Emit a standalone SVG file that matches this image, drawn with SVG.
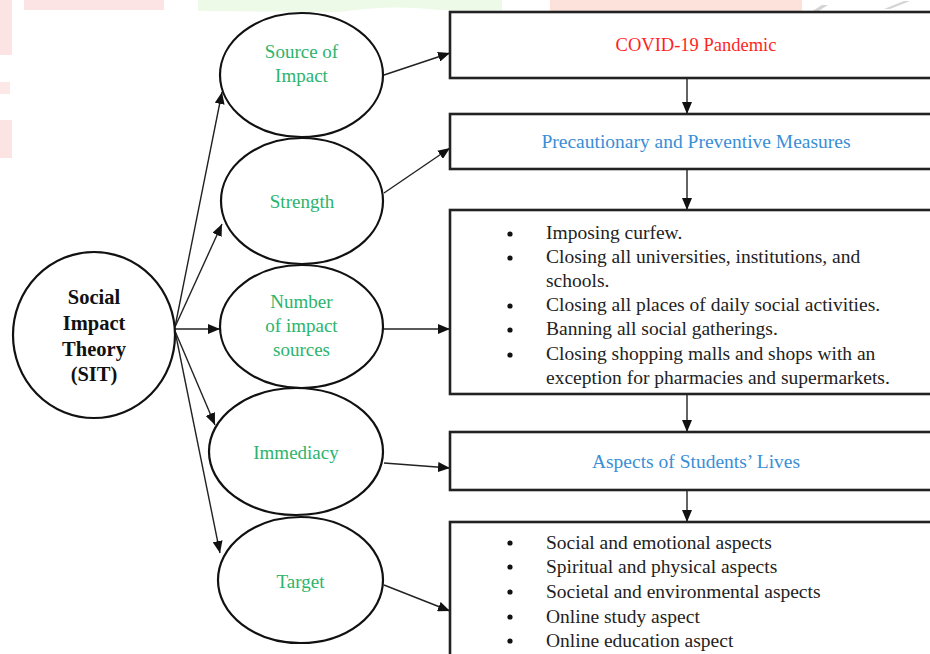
<svg xmlns="http://www.w3.org/2000/svg" width="930" height="654" viewBox="0 0 930 654">
<defs>
<marker id="ah" markerWidth="12" markerHeight="10" refX="12" refY="5" orient="auto" markerUnits="userSpaceOnUse">
<path d="M0,0 L12,5 L0,10 Z" fill="#111"/>
</marker>
<style>
.lbl{font-size:19px;fill:#2bb46c;text-anchor:middle;}
.ell{fill:#fff;stroke:#111;stroke-width:2.2;}
.box{fill:#fff;stroke:#222;stroke-width:2.6;}
.con{stroke:#222;stroke-width:1.4;fill:none;marker-end:url(#ah);}
.body{font-size:19.5px;fill:#222;}
.blue{font-size:19.5px;fill:#3a8ed6;text-anchor:middle;}
.dot{fill:#111;}
</style>
</defs>
<rect width="930" height="654" fill="#fff"/>
<g id="watermark">
<rect x="24" y="0" width="140" height="10" fill="#fde4e4"/>
<rect x="0" y="0" width="12" height="55" fill="#fde4e4"/>
<rect x="0" y="120" width="12" height="38" fill="#fde4e4"/>
<rect x="0" y="82" width="10" height="12" fill="#fde8e8"/>
<path d="M198,0 L502,0 L502,10 L440,10 Q390,4 340,12 L198,11 Z" fill="#eefae8"/>
<rect x="550" y="0" width="252" height="11" fill="#fde2dc"/>
<path d="M808,14 L822,5 L828,5 L814,14 Z" fill="#d4d4d4"/>
<path d="M884,9 L904,1 L910,1 L890,9 Z" fill="#d4d4d4"/>
</g>
<g id="connectors">
<line class="con" x1="175" y1="327" x2="222" y2="92"/>
<line class="con" x1="175" y1="327" x2="222" y2="224"/>
<line class="con" x1="175" y1="329" x2="220" y2="329"/>
<line class="con" x1="175" y1="331" x2="215" y2="425"/>
<line class="con" x1="175" y1="331" x2="220" y2="553"/>
<line class="con" x1="384" y1="75" x2="450" y2="53"/>
<line class="con" x1="384" y1="193" x2="450" y2="148"/>
<line class="con" x1="383" y1="329" x2="450" y2="329"/>
<line class="con" x1="384" y1="463" x2="450" y2="468"/>
<line class="con" x1="384" y1="585" x2="450" y2="611"/>
<line class="con" x1="687" y1="78" x2="687" y2="114"/>
<line class="con" x1="687" y1="169" x2="687" y2="210"/>
<line class="con" x1="687" y1="394" x2="687" y2="432"/>
<line class="con" x1="687" y1="490" x2="687" y2="522"/>
</g>
<g id="sit">
<ellipse class="ell" cx="94" cy="335" rx="81" ry="83"/>
<text font-family="Liberation Serif" font-size="20.5" font-weight="bold" fill="#111" text-anchor="middle"><tspan x="94" y="304">Social</tspan><tspan x="94" y="330">Impact</tspan><tspan x="94" y="356">Theory</tspan><tspan x="94" y="381">(SIT)</tspan></text>
</g>
<g id="source">
<ellipse class="ell" cx="301.5" cy="75" rx="81.5" ry="62"/>
<text font-family="Liberation Serif" class="lbl"><tspan x="301.5" y="58">Source of</tspan><tspan x="301.5" y="82">Impact</tspan></text>
</g>
<g id="strength">
<ellipse class="ell" cx="302" cy="201" rx="81" ry="63"/>
<text font-family="Liberation Serif" class="lbl" x="302" y="208">Strength</text>
</g>
<g id="number">
<ellipse class="ell" cx="301.5" cy="326.5" rx="81.5" ry="61.5"/>
<text font-family="Liberation Serif" class="lbl"><tspan x="301.5" y="308">Number</tspan><tspan x="301.5" y="332">of impact</tspan><tspan x="301.5" y="356">sources</tspan></text>
</g>
<g id="immediacy">
<ellipse class="ell" cx="296" cy="451.5" rx="87" ry="63.5"/>
<text font-family="Liberation Serif" class="lbl" x="296" y="459">Immediacy</text>
</g>
<g id="target">
<ellipse class="ell" cx="300.5" cy="580" rx="82.5" ry="63"/>
<text font-family="Liberation Serif" class="lbl" x="300.5" y="588">Target</text>
</g>
<g id="covid">
<rect class="box" x="450" y="12" width="495" height="66"/>
<text font-family="Liberation Serif" font-size="18.5" fill="#ff1f1f" text-anchor="middle" x="696" y="51">COVID-19 Pandemic</text>
</g>
<g id="measures">
<rect class="box" x="450" y="114" width="495" height="55"/>
<text font-family="Liberation Serif" class="blue" x="696" y="148">Precautionary and Preventive Measures</text>
</g>
<g id="actions">
<rect class="box" x="450" y="210" width="495" height="184"/>
<circle class="dot" cx="510" cy="234" r="2.6"/>
<circle class="dot" cx="510" cy="258" r="2.6"/>
<circle class="dot" cx="510" cy="306" r="2.6"/>
<circle class="dot" cx="510" cy="330" r="2.6"/>
<circle class="dot" cx="510" cy="355" r="2.6"/>
<text font-family="Liberation Serif" class="body"><tspan x="546" y="239">Imposing curfew.</tspan><tspan x="546" y="263">Closing all universities, institutions, and</tspan><tspan x="546" y="287">schools.</tspan><tspan x="546" y="311">Closing all places of daily social activities.</tspan><tspan x="546" y="335">Banning all social gatherings.</tspan><tspan x="546" y="360">Closing shopping malls and shops with an</tspan><tspan x="546" y="384">exception for pharmacies and supermarkets.</tspan></text>
</g>
<g id="aspects">
<rect class="box" x="450" y="432" width="495" height="58"/>
<text font-family="Liberation Serif" class="blue" x="696" y="468">Aspects of Students’ Lives</text>
</g>
<g id="aspectlist">
<rect class="box" x="450" y="522" width="495" height="150"/>
<circle class="dot" cx="510" cy="543" r="2.6"/>
<circle class="dot" cx="510" cy="567" r="2.6"/>
<circle class="dot" cx="510" cy="592" r="2.6"/>
<circle class="dot" cx="510" cy="617" r="2.6"/>
<circle class="dot" cx="510" cy="641" r="2.6"/>
<text font-family="Liberation Serif" class="body"><tspan x="546" y="549">Social and emotional aspects</tspan><tspan x="546" y="573">Spiritual and physical aspects</tspan><tspan x="546" y="598">Societal and environmental aspects</tspan><tspan x="546" y="623">Online study aspect</tspan><tspan x="546" y="647">Online education aspect</tspan></text>
</g>
</svg>
